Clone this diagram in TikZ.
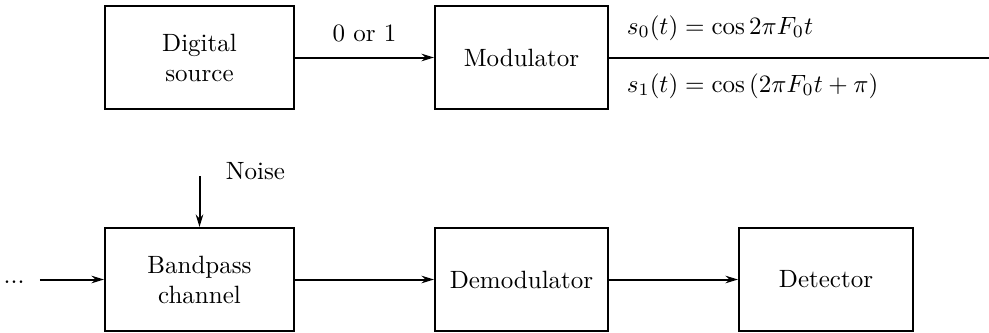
\documentclass[tikz,border=0pt]{standalone}
\usepackage{amsmath}
\usetikzlibrary{positioning,arrows.meta}

\begin{document}
\begin{tikzpicture}[x=0.4pt,y=-0.4pt,
  block/.style={draw,thick,minimum height=41.2pt,align=center,inner sep=2pt},
  wire/.style={thick,-{Stealth[length=5pt,width=3pt]}}]
  \useasboundingbox (0,0) rectangle (989,333);

  % Transmitter
  \node[block,minimum width=75.6pt] (src) at (199.5,57.5) {Digital\\source};
  \node[block,minimum width=69.2pt,right=55.6pt of src] (mod) {Modulator};
  \coordinate (out) at (989,57.5);

  % Receiver
  \node[block,minimum width=75.6pt,below=46.8pt of src] (chan) {Bandpass\\channel};
  \node[block,minimum width=69.2pt,below=46.8pt of mod] (demod) {Demodulator};
  \node[block,minimum width=69.6pt,right=51.6pt of demod] (det) {Detector};
  \coordinate[left=25.6pt of chan] (in);
  \node[left=6pt of in,inner sep=0pt,yshift=-1pt] (dots) {...};
  \coordinate[above=20.4pt of chan] (nz);
  \node[right=7pt of nz,yshift=2pt] (noise) {Noise};

  % Signals
  \draw[wire] (src) -- node[above=2.4pt] (bit) {0 or 1} (mod);
  \draw[thick] (mod.east) -- (out);
  \node[anchor=west] (s0) at (618,28) {$s_0(t)=\cos 2\pi F_0t$};
  \node[anchor=west] (s1) at (618,86) {$s_1(t)=\cos\,(2\pi F_0t+\pi)$};
  \draw[wire] (nz) -- (chan);
  \draw[wire] (in) -- (chan);
  \draw[wire] (chan) -- (demod);
  \draw[wire] (demod) -- (det);

\end{tikzpicture}
\end{document}
